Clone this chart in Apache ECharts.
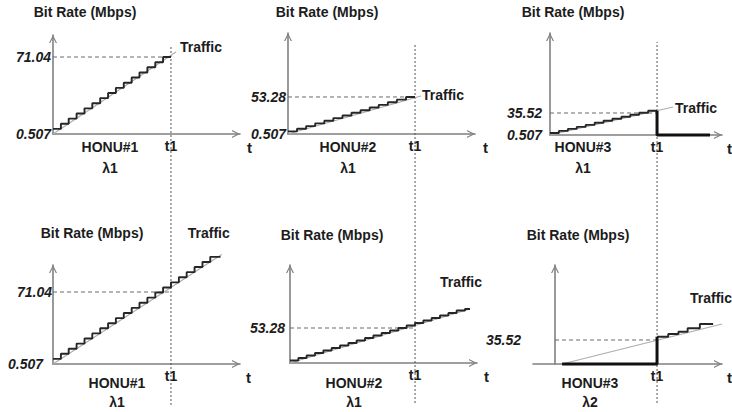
<!DOCTYPE html>
<html><head><meta charset="utf-8">
<script src="https://cdn.jsdelivr.net/npm/echarts@6/dist/echarts.min.js"></script>
<style>html,body{margin:0;padding:0;background:#fff}#c{width:732px;height:412px}</style>
</head><body><div id="c"></div>
<script>
// ================= DATA =================
const yAxisTitle = 'Bit Rate (Mbps)';
const xAxisTitle = 't';
const xTickLabel = 't1';
const trafficLabel = 'Traffic';
const t1 = 10;                       // time t1 (x units)
const baseRate = 0.507;
const panelNames = ['HONU#1', 'HONU#2', 'HONU#3', 'HONU#1', 'HONU#2', 'HONU#3'];
const wavelengths = ['λ1', 'λ1', 'λ1', 'λ1', 'λ1', 'λ2'];
const refRates = [71.04, 53.28, 35.52, 71.04, 53.28, 35.52];
const yTickValues = [[0.507, 71.04], [0.507, 53.28], [0.507, 35.52], [0.507, 71.04], [53.28], [35.52]];

// staircase (allocated bit rate) per panel: [t, Mbps]
const stair1 = [[0,5.2],[0.67,9.9],[1.33,14.6],[2,19.3],[2.67,24.0],[3.33,28.7],[4,33.4],[4.67,38.1],[5.33,42.8],[6,47.5],[6.67,52.2],[7.33,56.9],[8,61.6],[8.67,66.3],[9.33,71.04],[10,71.04]];
const stair2 = [[0,4.3],[0.71,8.0],[1.43,11.8],[2.14,15.6],[2.86,19.3],[3.57,23.2],[4.29,26.9],[5,30.7],[5.71,34.4],[6.43,38.2],[7.14,42.0],[7.86,45.7],[8.57,49.5],[9.29,53.28],[10,53.28]];
const stair3 = [[0,3.7],[0.83,7.0],[1.67,10.2],[2.5,13.4],[3.33,16.6],[4.17,19.9],[5,23.1],[5.83,26.3],[6.67,29.5],[7.5,32.7],[8.33,36.0],[9.17,39.2],[10,39.2]];
const stair4 = [[0,5.5],[0.67,10.5],[1.33,15.5],[2,20.5],[2.67,25.5],[3.33,30.5],[4,35.5],[4.67,40.5],[5.33,45.5],[6,50.5],[6.67,55.5],[7.33,60.5],[8,65.5],[8.67,70.5],[9.33,75.5],[10,80.5],[10.67,85.5],[11.33,90.5],[12,95.5],[12.67,100.5],[13.33,105.5],[14.2,105.5]];
const stair5 = [[0,4.3],[0.67,8.0],[1.33,11.8],[2,15.6],[2.67,19.3],[3.33,23.1],[4,26.9],[4.67,30.6],[5.33,34.4],[6,38.2],[6.67,41.9],[7.33,45.7],[8,49.5],[8.67,53.2],[9.33,57.0],[10,60.8],[10.67,64.5],[11.33,68.3],[12,72.1],[12.67,75.8],[13.33,79.6],[14,81.9],[14.4,81.9]];
const stair6 = [[10,40.3],[11.1,44.3],[12.1,47.6],[13,52.6],[14.2,58.9],[15.5,58.9]];

// traffic trend (straight line) per panel
const trend1 = [[0,0.507],[10.42,75.6]];
const trend2 = [[0,0.507],[10.47,54.7]];
const trend3 = [[0,0.507],[11.5,45]];
const trend4 = [[0,0.507],[14.3,107.7]];
const trend5 = [[0,0.507],[14.4,81.9]];
const trend6 = [[0.69,0.507],[16.37,58.9]];

// bold segments: HONU#3 switched off on λ1 after t1, idle on λ2 before t1
const cutoff3 = [[10,39.2],[10,0.507],[14.95,0.507]];
const idle6 = [[0.69,0.507],[10,0.507],[10,40.3]];

const stairs = [stair1, stair2, stair3, stair4, stair5, stair6];
const trends = [trend1, trend2, trend3, trend4, trend5, trend6];
const bolds = [null, null, cutoff3, null, null, idle6];

// ================= LAYOUT / STYLE =================
const FF = 'Liberation Sans, Arial, Helvetica, sans-serif';
const TXT = '#1c1c1c';
const AX = '#808080';
const layout = [
  {left:53,  top:35,  width:187, height:99,  xMin:0, xMax:15.85, yMax:91.2,  lm:2,  ng:16, ns:32, tg:7, title:[110,140], gap:7, eo:[4,-5]},
  {left:288, top:33,  width:187, height:101, xMin:0, xMax:14.72, yMax:144.5, lm:2,  ng:14, ns:39, tg:8, title:[348,140], gap:7, eo:[1,-1]},
  {left:550, top:33,  width:172, height:102, xMin:0, xMax:16.07, yMax:162.8, lm:8,  ng:14, ns:23, tg:5, title:[583,140], gap:7, eo:[2,1]},
  {left:53,  top:265, width:187, height:99,  xMin:0, xMax:15.85, yMax:97.5,  lm:1,  ng:25, ns:39, tg:6, title:[117,376], gap:5, eo:[-34,-22], loPad:9},
  {left:290, top:265, width:187, height:98,  xMin:0, xMax:14.96, yMax:148.3, lm:5,  ng:23, ns:42, tg:7, title:[354,376], gap:5, eo:[-30,-27]},
  {left:533, top:265, width:189, height:99,  xMin:-2.16, xMax:16.37, yMax:144.9, lm:12, ng:23, ns:23, tg:5, title:[590,376], gap:5, eo:[-32,-26]}
];
const overlay = [
  {left:53,  width:187, xMax:15.85, top:45, height:360},
  {left:288, width:187, xMax:14.72, top:43, height:360},
  {left:550, width:172, xMax:16.07, top:42, height:361}
];
const arrowPath = 'path://M0,10 L5,0 L10,10 L8.4,10 L5,3.2 L1.6,10 Z';

const grid = [], xAxis = [], yAxis = [], series = [], title = [];
const tickFont = {fontSize:14, fontWeight:'bold', fontStyle:'italic', color:TXT, fontFamily:FF};

layout.forEach((L, i) => {
  grid.push({left:L.left, top:L.top, width:L.width, height:L.height, containLabel:false, outerBoundsMode:'none'});
  xAxis.push({
    type:'value', gridIndex:i, min:L.xMin, max:L.xMax,
    name:xAxisTitle, nameLocation:'end', nameGap:L.tg, nameMoveOverlap:false,
    nameTextStyle:{fontSize:15, fontWeight:'bold', color:TXT, fontFamily:FF, verticalAlign:'top', padding:[6,0,0,0]},
    axisLine:{show:true, onZero:false, symbol:['none', arrowPath], symbolSize:[9,8], symbolOffset:[0,-4], lineStyle:{color:AX, width:1.6}},
    axisTick:{show:false}, splitLine:{show:false},
    axisLabel:{show:true, customValues:[t1], formatter:() => xTickLabel, margin:5, fontSize:14, fontWeight:'bold', color:TXT, fontFamily:FF}
  });
  yAxis.push({
    type:'value', gridIndex:i, min:baseRate, max:L.yMax,
    name:yAxisTitle, nameLocation:'end', nameGap:L.ng, nameMoveOverlap:false,
    nameTextStyle:{fontSize:14, fontWeight:'bold', color:TXT, fontFamily:FF, align:'center', padding:[0,0,0,2*L.ns]},
    axisLine:{show:true, onZero:true, symbol:['none', arrowPath], symbolSize:[9,8], symbolOffset:[0,-4], lineStyle:{color:AX, width:1.6}},
    axisTick:{show:false}, splitLine:{show:false},
    axisLabel:Object.assign({show:true, customValues:yTickValues[i], margin:L.lm,
      formatter:(v) => (L.loPad && v === baseRate) ? '{lo|' + v + '}' : String(v),
      rich:{lo:Object.assign({padding:[0, L.loPad || 0, 0, 0]}, tickFont)}}, tickFont)
  });
  title.push({text:panelNames[i], subtext:wavelengths[i], left:L.title[0], top:L.title[1], textAlign:'center',
    padding:0, itemGap:L.gap,
    textStyle:{fontSize:14, fontWeight:'bold', color:TXT, fontFamily:FF},
    subtextStyle:{fontSize:14, fontWeight:'bold', color:TXT, fontFamily:FF}});

  // reference level dashed guide
  series.push({type:'line', xAxisIndex:i, yAxisIndex:i, data:[[0, refRates[i]], [t1, refRates[i]]],
    symbol:'none', silent:true, z:1, lineStyle:{color:'#6a6a6a', width:1, type:[4,3]}});
  // traffic trend
  series.push({type:'line', xAxisIndex:i, yAxisIndex:i, data:trends[i], symbol:'none', clip:false, silent:true, z:2,
    lineStyle:{color:'#adadad', width:1.2},
    endLabel:{show:true, formatter:trafficLabel, distance:0, offset:L.eo, align:'left', verticalAlign:'middle',
      fontSize:14, fontWeight:'bold', color:TXT, fontFamily:FF}});
  // allocated staircase
  series.push({type:'line', step:'end', xAxisIndex:i, yAxisIndex:i, data:stairs[i], symbol:'none', clip:false, silent:true, z:3,
    lineStyle:{color:'#262626', width:1.9}});
  if (bolds[i]) {
    series.push({type:'line', xAxisIndex:i, yAxisIndex:i, data:bolds[i], symbol:'none', clip:false, silent:true, z:4,
      lineStyle:{color:'#111', width:3}});
  }
});

overlay.forEach((O, k) => {
  const gi = layout.length + k;
  grid.push({left:O.left, top:O.top, width:O.width, height:O.height, containLabel:false, outerBoundsMode:'none'});
  xAxis.push({type:'value', gridIndex:gi, min:0, max:O.xMax, show:false});
  yAxis.push({type:'value', gridIndex:gi, min:0, max:1, show:false});
  series.push({type:'line', xAxisIndex:gi, yAxisIndex:gi, data:[[t1,0],[t1,1]], symbol:'none', silent:true, z:0,
    lineStyle:{color:'#555', width:1, type:[2,2]}});
});

const chart = echarts.init(document.getElementById('c'), null, {renderer:'svg'});
chart.setOption({animation:false, backgroundColor:'#fff', title, grid, xAxis, yAxis, series});
</script></body></html>
